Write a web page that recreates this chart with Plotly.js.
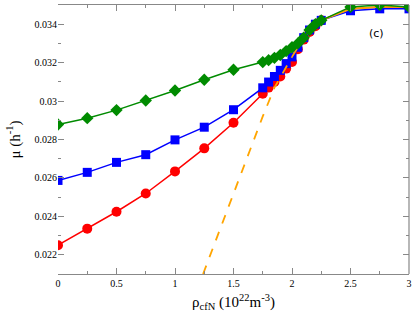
<!DOCTYPE html>
<html>
<head>
<meta charset="utf-8">
<script src="https://cdn.plot.ly/plotly-3.0.1.min.js"></script>
<style>html,body{margin:0;padding:0;background:#fff;}#chart{width:415px;height:317px;}</style>
</head>
<body>
<div id="chart"></div>
<script>
// Data
const redX = [0,0.25,0.5,0.75,1,1.25,1.5,1.75,1.8,1.85,1.9,1.95,2.0,2.05,2.1,2.15,2.2,2.25,2.5,2.75,3];
const redY = [0.0225,0.02336,0.02424,0.02519,0.02634,0.02754,0.02887,0.03038,0.0307,0.03099,0.03128,0.03169,0.03203,0.0327,0.0332,0.0336,0.0339,0.0342,0.0348,0.0349,0.0349];
const blueX = [0,0.25,0.5,0.75,1,1.25,1.5,1.75,1.8,1.85,1.9,1.95,2.0,2.05,2.1,2.15,2.2,2.25,2.5,2.75,3];
const blueY = [0.02587,0.02629,0.02681,0.02721,0.02798,0.02864,0.02955,0.03069,0.03099,0.03128,0.0316,0.03195,0.0323,0.0328,0.0333,0.0337,0.034,0.0342,0.0347,0.0348,0.0348];
const greenX = [0,0.25,0.5,0.75,1,1.25,1.5,1.75,1.8,1.85,1.9,1.95,2.0,2.05,2.1,2.15,2.2,2.25,2.5,2.75,3];
const greenY = [0.02878,0.02911,0.02953,0.03003,0.03055,0.03111,0.03163,0.03203,0.03213,0.03225,0.0324,0.0326,0.0328,0.033,0.0333,0.0337,0.034,0.0342,0.0349,0.035,0.0349];
const fitDashX = [1.24,1.5,1.75,1.85,1.95,2.0];
const fitDashY = [0.021,0.0252,0.0292,0.0307,0.0318,0.0323];
const fitSolidX = [2.0,2.05,2.1,2.15,2.2,2.25,2.5,2.75,3];
const fitSolidY = [0.0323,0.0328,0.0333,0.0337,0.034,0.0342,0.0348,0.0349,0.0349];
const xTicks = [0,0.5,1,1.5,2,2.5,3];
const xTickText = ['0','0.5','1','1.5','2','2.5','3'];
const yTicks = [0.022,0.024,0.026,0.028,0.03,0.032,0.034];
const yTickText = ['0.022','0.024','0.026','0.028','0.03','0.032','0.034'];

const traces = [
  {x: redX, y: redY, mode:'lines+markers', line:{color:'#ff0000', width:1.5},
   marker:{symbol:'circle', size:10, color:'#ff0000'}},
  {x: blueX, y: blueY, mode:'lines+markers', line:{color:'#0000ff', width:1.5},
   marker:{symbol:'square', size:9, color:'#0000ff'}},
  {x: fitDashX, y: fitDashY, mode:'lines', line:{color:'#ffa500', width:1.8, dash:'dash'}},
  {x: fitSolidX, y: fitSolidY, mode:'lines', line:{color:'#ffa500', width:1.8}},
  {x: greenX, y: greenY, mode:'lines+markers', line:{color:'#008b00', width:1.5},
   marker:{symbol:'diamond', size:9.5, color:'#008b00'}}
];

const layout = {
  width:415, height:317,
  margin:{l:58, r:6, t:5, b:43},
  paper_bgcolor:'#fff', plot_bgcolor:'#fff',
  showlegend:false,
  font:{family:'Liberation Serif, serif', size:10, color:'#000'},
  xaxis:{
    range:[0,3], tickvals:xTicks, ticktext:xTickText,
    showgrid:false, zeroline:false, showline:true, linecolor:'#888', linewidth:1.2,
    mirror:'ticks', ticks:'inside', ticklen:6, tickcolor:'#888', tickwidth:1,
    minor:{dtick:0.25, ticks:'inside', ticklen:3, tickcolor:'#888'},
    tickfont:{family:'Liberation Serif, serif', size:10},
    title:{text:'ρ<sub>cfN</sub> (10<sup>22</sup>m<sup>-3</sup>)', font:{family:'Liberation Serif, serif', size:15}, standoff:8}
  },
  yaxis:{
    range:[0.021,0.035], tickvals:yTicks, ticktext:yTickText,
    showgrid:false, zeroline:false, showline:false,
    mirror:'ticks', ticks:'inside', ticklen:6, tickcolor:'#888', tickwidth:1,
    minor:{dtick:0.001, ticks:'inside', ticklen:3, tickcolor:'#888'},
    tickfont:{family:'Liberation Serif, serif', size:10},
    title:{text:'μ (h<sup>-1</sup>)', font:{family:'Liberation Serif, serif', size:15}, standoff:10}
  },
  shapes:[
    {type:'line', xref:'paper', yref:'paper', x0:1, x1:1, y0:0, y1:1, line:{color:'#888', width:1.2}}
  ],
  annotations:[
    {text:'(c)', xref:'paper', yref:'paper', x:0.935, y:0.925, showarrow:false,
     font:{family:'DejaVu Sans, sans-serif', size:11, color:'#000'}}
  ]
};

Plotly.newPlot('chart', traces, layout, {staticPlot:true, displayModeBar:false});
</script>
</body>
</html>
